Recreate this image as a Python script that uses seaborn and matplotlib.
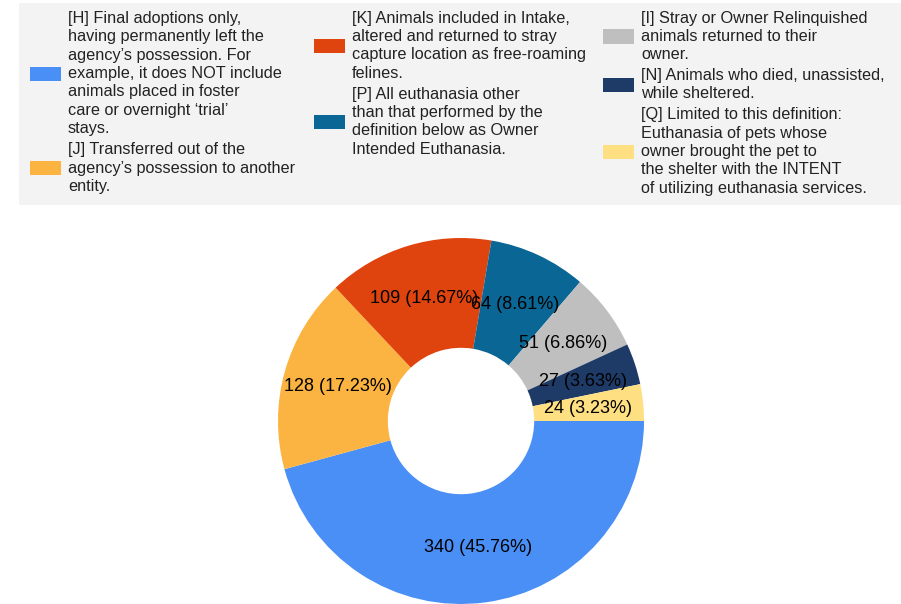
import matplotlib
matplotlib.use("Agg")
import matplotlib.pyplot as plt
from matplotlib.patches import Rectangle
import seaborn as sns

# Outcome categories and counts
codes = ["H", "J", "K", "P", "I", "N", "Q"]
values = [340, 128, 109, 64, 51, 27, 24]
legend_labels = [
    "[H] Final adoptions only,\nhaving permanently left the\nagency\u2019s possession. For\nexample, it does NOT include\nanimals placed in foster\ncare or overnight \u2018trial\u2019\nstays.",
    "[J] Transferred out of the\nagency\u2019s possession to another\nentity.",
    "[K] Animals included in Intake,\naltered and returned to stray\ncapture location as free-roaming\nfelines.",
    "[P] All euthanasia other\nthan that performed by the\ndefinition below as Owner\nIntended Euthanasia.",
    "[I] Stray or Owner Relinquished\nanimals returned to their\nowner.",
    "[N] Animals who died, unassisted,\nwhile sheltered.",
    "[Q] Limited to this definition:\nEuthanasia of pets whose\nowner brought the pet to\nthe shelter with the INTENT\nof utilizing euthanasia services.",
]
colors = ["#4a8ff5", "#fbb441", "#e0440e", "#0a6694", "#bfbfbf", "#1e3a66", "#fee083"]
legend_columns = [[0, 1], [2, 3], [4, 5, 6]]

sns.set_theme(style="white")
plt.rcParams["font.family"] = ["Liberation Sans", "DejaVu Sans"]

W, H = 901, 604
fig = plt.figure(figsize=(W / 100, H / 100), dpi=100)

# pie axes: centre (461, 421) px, radius 183 px
cx, cy, r = 461, 421, 183
ax = fig.add_axes([(cx - r) / W, (H - cy - r) / H, 2 * r / W, 2 * r / H])

total = sum(values)
wedges, _, autotexts = ax.pie(
    values,
    colors=colors,
    startangle=0,
    counterclock=False,
    wedgeprops=dict(width=0.6, linewidth=0),
    autopct=lambda p: f"{round(p * total / 100)} ({p:.2f}%)",
    pctdistance=0.70,
    textprops=dict(fontsize=13, color="black"),
)
ax.set_xlim(-1, 1)
ax.set_ylim(-1, 1)
ax.set_aspect("equal")
for w in wedges:
    w.set_clip_on(False)

# legend background
fig.patches.append(Rectangle((19 / W, (H - 205) / H), (W - 19) / W, 202 / H,
                             transform=fig.transFigure, facecolor="#f3f3f3",
                             edgecolor="none", zorder=0))

swatch_x = [30, 314, 603]
pitch = 18.5
for col, idxs in enumerate(legend_columns):
    y = 18
    for i in idxs:
        n = legend_labels[i].count("\n") + 1
        yc = y + (n - 1) * pitch / 2
        fig.patches.append(Rectangle((swatch_x[col] / W, (H - yc - 7) / H), 31 / W, 14 / H,
                                     transform=fig.transFigure, facecolor=colors[i],
                                     edgecolor="none", zorder=1))
        fig.text((swatch_x[col] + 38) / W, (H - yc) / H, legend_labels[i],
                 fontsize=11.7, va="center", ha="left", linespacing=1.28, color="#222222")
        y += n * pitch + 2

fig.savefig("out.png", dpi=100)
